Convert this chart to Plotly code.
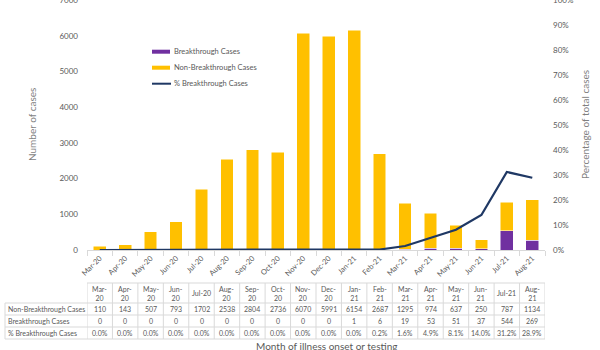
import plotly.graph_objects as go

# Monthly case counts by illness onset / testing month
months = ["Mar-20", "Apr-20", "May-20", "Jun-20", "Jul-20", "Aug-20", "Sep-20", "Oct-20",
          "Nov-20", "Dec-20", "Jan-21", "Feb-21", "Mar-21", "Apr-21", "May-21", "Jun-21",
          "Jul-21", "Aug-21"]
header_labels = ["Mar-<br>20", "Apr-<br>20", "May-<br>20", "Jun-<br>20", "Jul-20", "Aug-<br>20",
                 "Sep-<br>20", "Oct-<br>20", "Nov-<br>20", "Dec-<br>20", "Jan-<br>21", "Feb-<br>21",
                 "Mar-<br>21", "Apr-<br>21", "May-<br>21", "Jun-<br>21", "Jul-21", "Aug-<br>21"]
non_breakthrough = [110, 143, 507, 793, 1702, 2538, 2804, 2736, 6070, 5991, 6154, 2687,
                    1295, 974, 637, 250, 787, 1134]
breakthrough = [0, 0, 0, 0, 0, 0, 0, 0, 0, 0, 1, 6, 19, 53, 51, 37, 544, 269]
pct_breakthrough = [0.0, 0.0, 0.0, 0.0, 0.0, 0.0, 0.0, 0.0, 0.0, 0.0, 0.0, 0.2,
                    1.6, 4.9, 8.1, 14.0, 31.2, 28.9]
row_names = ["Non-Breakthrough Cases", "Breakthrough Cases", "% Breakthrough Cases"]

PURPLE = "#7030A0"
YELLOW = "#FFC000"
NAVY = "#1F3864"
GRID = "#D9D9D9"
TXT = "#595959"
FONT = "Lato"
TABLE_SIZE = 7

# pixel geometry of the figure
W, H = 600, 350
L, R, T, B = 87, 55, 0, 100
PH = H - T - B
PW = W - L - R


def py(ypx):
    """Pixel row -> paper y."""
    return (H - B - ypx) / PH


def px(xpx):
    """Pixel column -> paper x."""
    return (xpx - L) / PW


fig = go.Figure()
fig.add_trace(go.Bar(x=months, y=breakthrough, name="Breakthrough Cases",
                     marker=dict(color=PURPLE, line=dict(color="white", width=0.5)),
                     width=0.5, showlegend=False))
fig.add_trace(go.Bar(x=months, y=non_breakthrough, name="Non-Breakthrough Cases",
                     marker=dict(color=YELLOW, line=dict(color="white", width=0.5)),
                     width=0.5, showlegend=False))
fig.add_trace(go.Scatter(x=months, y=[p / 100 for p in pct_breakthrough],
                         name="% Breakthrough Cases", mode="lines",
                         line=dict(color=NAVY, width=2.25), yaxis="y2", showlegend=False))

shapes = []
annotations = []

# legend drawn as swatches + labels
legend_items = [("Breakthrough Cases", "rect", PURPLE, 51.7),
                ("Non-Breakthrough Cases", "rect", YELLOW, 67.7),
                ("% Breakthrough Cases", "line", NAVY, 83.7)]
for label, kind, color, yc in legend_items:
    if kind == "rect":
        shapes.append(dict(type="rect", xref="paper", yref="paper",
                           x0=px(152), x1=px(170), y0=py(yc + 2), y1=py(yc - 2),
                           fillcolor=color, line=dict(width=0)))
    else:
        shapes.append(dict(type="line", xref="paper", yref="paper",
                           x0=px(152), x1=px(171), y0=py(yc), y1=py(yc),
                           line=dict(color=color, width=2)))
    annotations.append(dict(text=label, xref="paper", yref="paper", x=px(171.5), y=py(yc),
                            xanchor="left", yanchor="middle", showarrow=False,
                            font=dict(size=7.5, color=TXT, family=FONT)))

# data table beneath the axis
head_top, row_lines = 283, [303, 315, 327, 339]
left_edge = px(5)
n = len(months)
for i in range(n + 1):
    shapes.append(dict(type="line", xref="x", yref="paper", x0=i - 0.5, x1=i - 0.5,
                       y0=py(head_top), y1=py(row_lines[-1]),
                       line=dict(color=GRID, width=1)))
shapes.append(dict(type="line", xref="x", yref="paper", x0=-0.5, x1=n - 0.5,
                   y0=py(head_top), y1=py(head_top), line=dict(color=GRID, width=1)))
for yl in row_lines:
    shapes.append(dict(type="line", xref="paper", yref="paper", x0=left_edge, x1=1,
                       y0=py(yl), y1=py(yl), line=dict(color=GRID, width=1)))
shapes.append(dict(type="line", xref="paper", yref="paper", x0=left_edge, x1=left_edge,
                   y0=py(row_lines[0]), y1=py(row_lines[-1]), line=dict(color=GRID, width=1)))

for m, h in zip(months, header_labels):
    annotations.append(dict(text=h, xref="x", yref="paper", x=m, y=py((head_top + row_lines[0]) / 2),
                            xanchor="center", yanchor="middle", showarrow=False,
                            font=dict(size=TABLE_SIZE, color=TXT, family=FONT)))

rows = [[str(v) for v in non_breakthrough],
        [str(v) for v in breakthrough],
        [f"{v:.1f}%" for v in pct_breakthrough]]
for r, (name, vals) in enumerate(zip(row_names, rows)):
    yc = (row_lines[r] + row_lines[r + 1]) / 2
    annotations.append(dict(text=name, xref="paper", yref="paper", x=px(6), y=py(yc),
                            xanchor="left", yanchor="middle", showarrow=False,
                            font=dict(size=TABLE_SIZE, color=TXT, family=FONT)))
    for m, v in zip(months, vals):
        annotations.append(dict(text=v, xref="x", yref="paper", x=m, y=py(yc),
                                xanchor="center", yanchor="middle", showarrow=False,
                                font=dict(size=TABLE_SIZE, color=TXT, family=FONT)))

# axis titles
annotations.append(dict(text="Number of cases", xref="paper", yref="paper", x=px(32), y=py(125),
                        textangle=-90, xanchor="center", yanchor="middle", showarrow=False,
                        font=dict(size=10, color="#7F7F7F", family=FONT)))
annotations.append(dict(text="Percentage of total cases", xref="paper", yref="paper",
                        x=px(585), y=py(125), textangle=-90, xanchor="center", yanchor="middle",
                        showarrow=False, font=dict(size=10, color="#7F7F7F", family=FONT)))
annotations.append(dict(text="Month of illness onset or testing", xref="paper", yref="paper",
                        x=px(326), y=py(345.5), xanchor="center", yanchor="middle",
                        showarrow=False, font=dict(size=10, color=TXT, family=FONT)))

fig.update_layout(
    width=W, height=H,
    margin=dict(l=L, r=R, t=T, b=B, autoexpand=False),
    paper_bgcolor="white", plot_bgcolor="white",
    barmode="stack", bargap=0.5,
    font=dict(family=FONT, size=8, color=TXT),
    xaxis=dict(type="category", range=[-0.5, n - 0.5], showline=True, linecolor=GRID,
               linewidth=1, ticks="outside", tickson="boundaries", ticklen=5,
               tickcolor=GRID, tickangle=-45, showgrid=False,
               tickfont=dict(size=7.5, color=TXT, family=FONT), automargin=False),
    yaxis=dict(range=[0, 7000], dtick=1000, showgrid=False, zeroline=False, showline=False,
               ticks="", ticklabelstandoff=8, ticklabeloverflow="allow",
               tickfont=dict(size=8, color=TXT, family=FONT), automargin=False),
    yaxis2=dict(range=[0, 1], dtick=0.1, tickformat=".0%", overlaying="y", side="right",
                showgrid=False, zeroline=False, showline=False, ticks="",
                ticklabelstandoff=7, ticklabeloverflow="allow",
                tickfont=dict(size=8, color=TXT, family=FONT), automargin=False),
    shapes=shapes,
    annotations=annotations,
)

fig.write_html("out.html")
